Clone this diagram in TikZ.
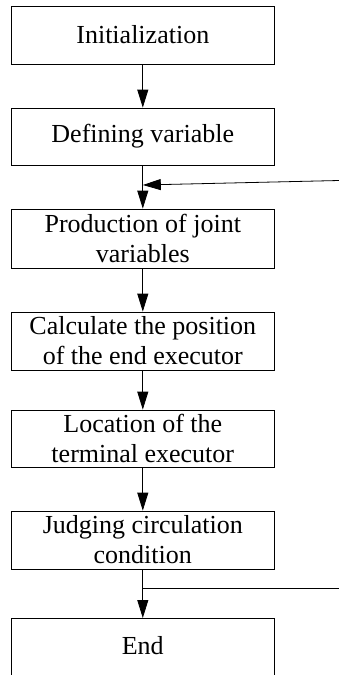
\documentclass[tikz,border=0pt]{standalone}
\usepackage{fontspec}
\setmainfont{Liberation Serif}
\usetikzlibrary{arrows.meta}
\begin{document}
\begin{tikzpicture}[x=1pt,y=-1pt,
  stepbox/.style={draw, line width=0.8pt, minimum width=263pt, inner sep=0pt,
    align=center, font=\fontsize{26}{30}\selectfont},
  flow/.style={line width=0.8pt, -{Triangle[length=18pt,width=11pt]}},
  plain/.style={line width=0.8pt}]
\useasboundingbox (0,0) rectangle (339,675);
\node[stepbox, minimum height=58pt] (b1) at (142.8,35) {Initialization};
\node[stepbox, minimum height=57pt] (b2) at (142.8,136.5) {Defining variable};
\node[stepbox, minimum height=59pt] (b3) at (142.8,238.5) {Production of joint\\variables};
\node[stepbox, minimum height=58pt] (b4) at (142.8,341) {Calculate the position\\of the end executor};
\node[stepbox, minimum height=57pt] (b5) at (142.8,438.5) {Location of the\\terminal executor};
\node[stepbox, minimum height=58pt] (b6) at (142.8,540) {Judging circulation\\condition};
\node[stepbox, minimum height=70pt, anchor=north, text depth=16pt] (b7) at (142.8,618) {End};
\coordinate (m1) at (142.8,185);
\coordinate (fbin) at (339,180.5);
\coordinate (j2) at (142.8,588);
\coordinate (fbout) at (339,588);
\draw[flow] (b1) -- (b2);
\draw[flow] (b2) -- (b3);
\draw[flow] (fbin) -- (m1);
\draw[flow] (b3) -- (b4);
\draw[flow] (b4) -- (b5);
\draw[flow] (b5) -- (b6);
\draw[flow] (b6.south) -- (b7.north);
\draw[plain] (j2) -- (fbout);
\end{tikzpicture}
\end{document}
